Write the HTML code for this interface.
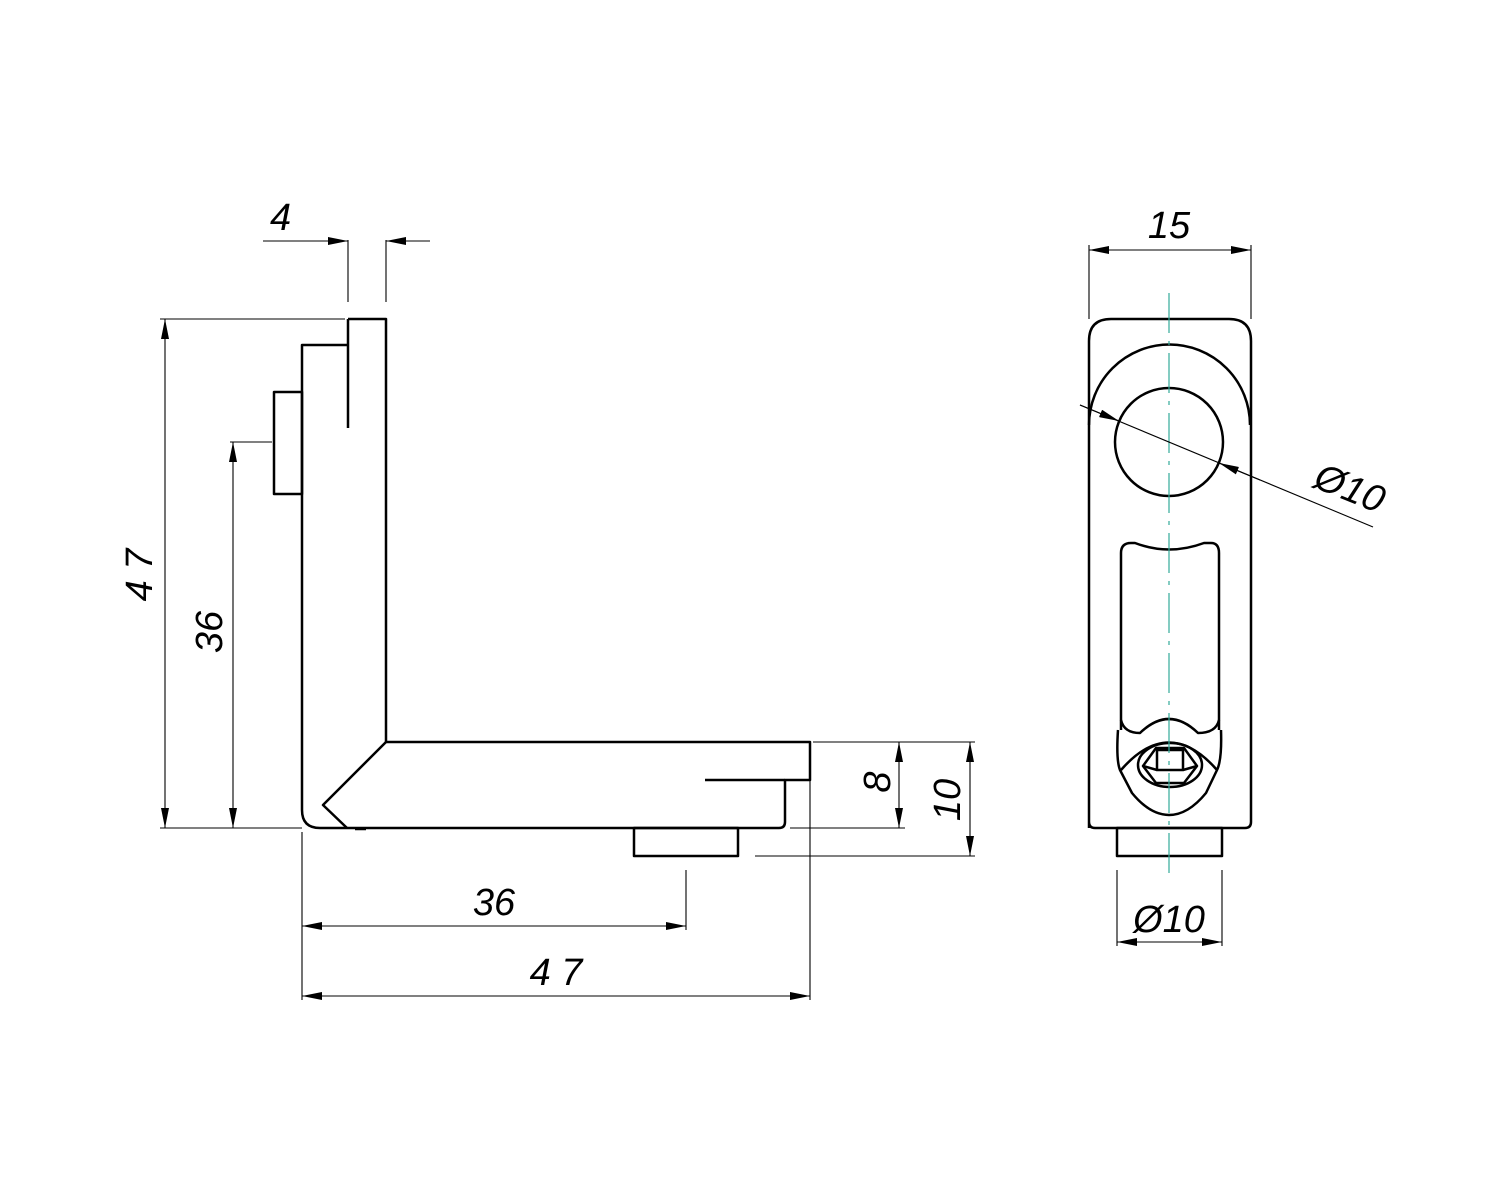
<!DOCTYPE html>
<html><head><meta charset="utf-8"><style>
html,body{margin:0;padding:0;background:#fff}
svg{display:block}
text{font-family:"Liberation Sans",sans-serif;font-style:italic;font-size:38px;fill:#000}
</style></head><body>
<svg width="1500" height="1200" viewBox="0 0 1500 1200" xmlns="http://www.w3.org/2000/svg">
<defs>
<marker id="a" viewBox="0 0 20 8" refX="20" refY="4" markerWidth="20" markerHeight="8" orient="auto" markerUnits="userSpaceOnUse"><path d="M0,0 L20,4 L0,8 z" fill="#000"/></marker>
</defs>
<g fill="none" stroke="#000" stroke-width="2.5" stroke-linejoin="round">
<path d="M348,319 H386 V742 H810 V780 H785 V822 Q785,828 779,828 H320 Q302,828 302,810 V345 H348"/>
<path d="M348,319 V428"/>
<path d="M705,780 H785"/>
<path d="M386,742 L323,805 L347,828"/>
<path d="M355,829 H366"/>
<rect x="274" y="392" width="28" height="102"/>
<rect x="634" y="828" width="104" height="28"/>
<path d="M1089,828 V341 Q1089,319 1111,319 H1229 Q1251,319 1251,341 V822 Q1251,828 1245,828 H1095 Q1089,828 1089,822"/>
<path d="M1089,425 A80,80 0 0 1 1250,425"/>
<circle cx="1169" cy="442" r="54"/>
<path d="M1121,730 V553 Q1121,543 1131,543 H1135 Q1169,556 1204,543 H1211 Q1219,543 1219,553 V730"/>
<path d="M1121,720 Q1124,733 1140,733 Q1169,705 1198,733 Q1216,733 1219,720"/>
<path d="M1118,730 Q1116,760 1120,770 L1132,793 Q1150,815 1169,815 Q1188,815 1206,793 L1217,770 Q1222,760 1221,730"/>
<path d="M1121,770 Q1169,715 1217,770"/>
<ellipse cx="1170" cy="765" rx="32" ry="22"/>
<path d="M1143,766 L1156,748 H1184 L1197,766 L1184,783 H1156 Z"/>
<rect x="1157" y="750" width="26" height="20"/>
<path d="M1157,770 L1143,766 M1183,770 L1197,766"/>
<rect x="1117" y="828" width="105" height="28"/>
</g>
<g stroke="#3a9" stroke-width="1.2" stroke-dasharray="40,8,4,8" fill="none">
<path d="M1169,293 V880"/>
</g>
<g stroke="#000" stroke-width="1.1" fill="none">
<path d="M348,240 V302 M386,240 V302"/>
<path d="M263,241 H348" marker-end="url(#a)"/>
<path d="M430,241 H386" marker-end="url(#a)"/>
<path d="M160,319 H345 M160,828 H302"/>
<path d="M165,573 V319" marker-end="url(#a)"/>
<path d="M165,573 V828" marker-end="url(#a)"/>
<path d="M230,442 H272"/>
<path d="M233,635 V442" marker-end="url(#a)"/>
<path d="M233,635 V828" marker-end="url(#a)"/>
<path d="M302,832 V1000 M686,870 V930 M810,745 V1000"/>
<path d="M494,926 H302" marker-end="url(#a)"/>
<path d="M494,926 H686" marker-end="url(#a)"/>
<path d="M556,996 H302" marker-end="url(#a)"/>
<path d="M556,996 H810" marker-end="url(#a)"/>
<path d="M813,742 H975 M790,828 H905 M755,856 H975"/>
<path d="M899,785 V742" marker-end="url(#a)"/>
<path d="M899,785 V828" marker-end="url(#a)"/>
<path d="M970,799 V742" marker-end="url(#a)"/>
<path d="M970,799 V856" marker-end="url(#a)"/>
<path d="M1089,245 V319 M1251,245 V319"/>
<path d="M1170,250 H1089" marker-end="url(#a)"/>
<path d="M1170,250 H1251" marker-end="url(#a)"/>
<path d="M1117,870 V946 M1222,870 V946"/>
<path d="M1170,942 H1117" marker-end="url(#a)"/>
<path d="M1170,942 H1222" marker-end="url(#a)"/>
<path d="M1080,405 L1373,527"/>
<path d="M1080,405 L1119,421" marker-end="url(#a)"/>
<path d="M1260,480 L1219,463" marker-end="url(#a)"/>
</g>
<text x="270" y="230">4</text>
<text transform="translate(152,575) rotate(-90)" text-anchor="middle">4 7</text>
<text transform="translate(222,632) rotate(-90)" text-anchor="middle">36</text>
<text x="494" y="915" text-anchor="middle">36</text>
<text x="556" y="985" text-anchor="middle">4 7</text>
<text transform="translate(890,782) rotate(-90)" text-anchor="middle">8</text>
<text transform="translate(960,800) rotate(-90)" text-anchor="middle">10</text>
<text x="1169" y="238" text-anchor="middle">15</text>
<text x="1169" y="932" text-anchor="middle">Ø10</text>
<text transform="translate(1345,500) rotate(22)" text-anchor="middle">Ø10</text>
</svg>
</body></html>
